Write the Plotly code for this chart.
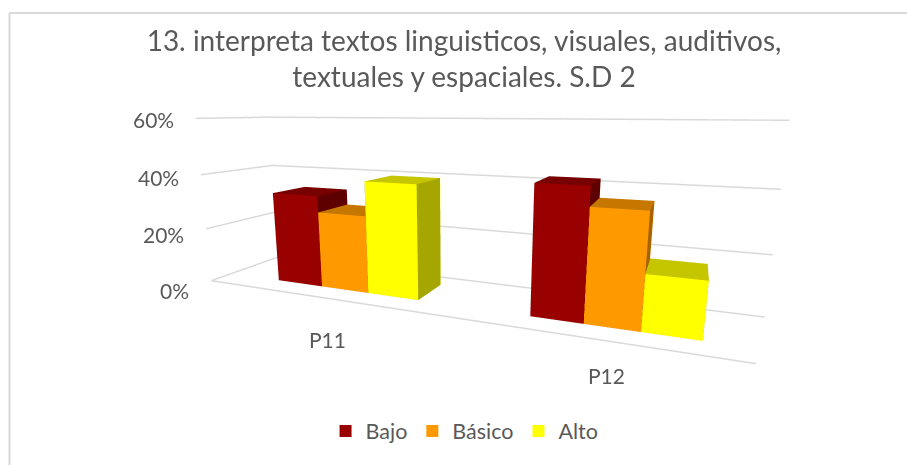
import plotly.graph_objects as go

categories = ["P11", "P12"]
bajo = [33.2, 41.8]
basico = [27.4, 35.7]
alto = [39.4, 17.5]
series_names = ["Bajo", "Básico", "Alto"]
z_ticks = [0, 20, 40, 60]
title_text = "13. interpreta textos linguisticos, visuales, auditivos,<br>textuales y espaciales. S.D 2"

GRAY = "#595959"
GRID = "#d9d9d9"
FONT = "Lato, 'Open Sans', sans-serif"
front_colors = ["#990000", "#ff9900", "#ffff00"]
top_colors = ["#770000", "#c67700", "#c6c600"]
side_colors = ["#5f0000", "#a66300", "#a6a600"]
group_start = [0.123, 0.642]
bar_width = [0.104, 0.0875]
depth_front, depth_back = 0.2734, 0.7627
tick_yshift = [-10, -6, -3, -1]
cat_yshift = [-27, -20]
floor_edge_end = 0.97

FACES = [  # (i, j, k, face)
    (0, 1, 2, "front"), (0, 2, 3, "front"),
    (4, 5, 6, "back"), (4, 6, 7, "back"),
    (3, 2, 6, "top"), (3, 6, 7, "top"),
    (1, 5, 6, "side"), (1, 6, 2, "side"),
    (0, 4, 7, "left"), (0, 7, 3, "left"),
    (0, 1, 5, "bottom"), (0, 5, 4, "bottom"),
]

def bar_trace(x0, x1, value, s):
    colour = {"front": front_colors[s], "back": front_colors[s], "top": top_colors[s],
              "side": side_colors[s], "left": side_colors[s], "bottom": side_colors[s]}
    return go.Mesh3d(
        x=[x0, x1, x1, x0, x0, x1, x1, x0],
        y=[depth_front] * 4 + [depth_back] * 4,
        z=[0, 0, value, value, 0, 0, value, value],
        i=[f[0] for f in FACES], j=[f[1] for f in FACES], k=[f[2] for f in FACES],
        facecolor=[colour[f[3]] for f in FACES],
        flatshading=True,
        lighting=dict(ambient=1, diffuse=0, specular=0, roughness=1, fresnel=0),
        hoverinfo="skip", showlegend=False,
    )

fig = go.Figure()
fig.add_trace(go.Scatter3d(x=[0, floor_edge_end], y=[0, 0], z=[0, 0], mode="lines",
                           line=dict(color=GRID, width=3), hoverinfo="skip", showlegend=False))
for c in range(len(categories)):
    for s, values in enumerate([bajo, basico, alto]):
        x0 = group_start[c] + s * bar_width[c]
        fig.add_trace(bar_trace(x0, x0 + bar_width[c], values[c], s))
for s, name in enumerate(series_names):
    fig.add_trace(go.Scatter3d(x=[None], y=[None], z=[None], mode="markers", name=name,
                               marker=dict(symbol="square", size=13, color=front_colors[s])))

cat_centres = [group_start[c] + 1.5 * bar_width[c] for c in range(2)]
common = dict(showbackground=False, showspikes=False, zeroline=False, showticklabels=False,
              title=dict(text=""), ticks="")
tick_notes = [dict(x=0, y=0, z=t, text=f"{t}%", showarrow=False, xanchor="right", yanchor="middle",
                   xshift=-20, yshift=dy, font=dict(size=21, color=GRAY))
              for t, dy in zip(z_ticks, tick_yshift)]
cat_notes = [dict(x=cat_centres[c], y=0, z=0, text=categories[c], showarrow=False, xanchor="center",
                  yanchor="top", xshift=0, yshift=cat_yshift[c], font=dict(size=21, color=GRAY))
             for c in range(len(categories))]
fig.update_layout(
    width=907, height=465, autosize=False,
    margin=dict(l=0, r=0, t=0, b=0),
    paper_bgcolor="white", font=dict(family=FONT, color=GRAY),
    title=dict(text=title_text, x=0.5116, xanchor="center", y=0.8904, yanchor="middle",
               font=dict(size=28, color=GRAY, family=FONT)),
    showlegend=True,
    legend=dict(orientation="h", x=0.5122, xanchor="center", y=0.073, yanchor="middle", itemwidth=30,
                font=dict(size=21.5, color=GRAY), itemsizing="constant"),
    shapes=[
        dict(type="line", xref="paper", yref="paper", x0=9.5/907, x1=9.5/907, y0=0, y1=1-13/465,
             line=dict(color=GRID, width=2)),
        dict(type="line", xref="paper", yref="paper", x0=9/907, x1=1, y0=1-13/465, y1=1-13/465,
             line=dict(color=GRID, width=2)),
    ],
    scene=dict(
        domain=dict(x=[0, 1], y=[0, 1]),
        xaxis=dict(range=[0, 1], showgrid=False, showline=False, **common),
        yaxis=dict(range=[0, 1], showgrid=False, showline=False, **common),
        zaxis=dict(range=[0, 60], tickvals=z_ticks, showgrid=True, gridcolor=GRID, gridwidth=3,
                   showline=False, **common),
        aspectmode="manual", aspectratio=dict(x=1, y=0.2018, z=0.3187),
        camera=dict(projection=dict(type="perspective"),
                    eye=dict(x=0.3665, y=-0.9059, z=0.1747),
                    center=dict(x=0.278, y=-0.696, z=0.125),
                    up=dict(x=0.0138, y=0.0058, z=1)),
        annotations=tick_notes + cat_notes,
    ),
)
fig.write_html("out.html", config=dict(displayModeBar=False),
               post_script="document.body.style.margin='0';")
